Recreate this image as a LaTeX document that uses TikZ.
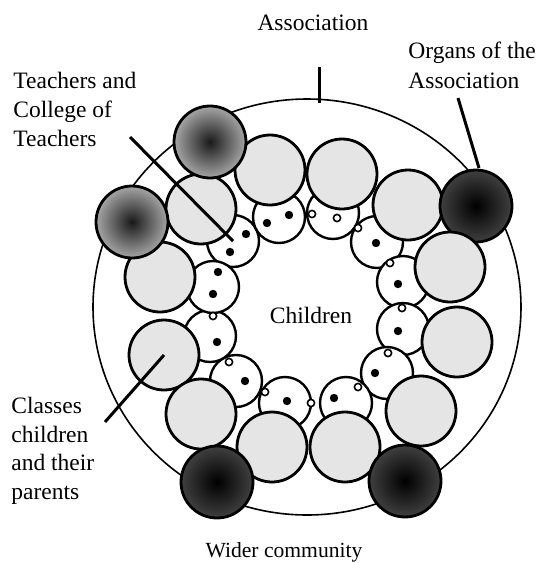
\documentclass[tikz,border=0pt]{standalone}
\usepackage{fontspec}
\setmainfont{Liberation Serif}
\newfontfamily\lblfont{Liberation Serif}
\usetikzlibrary{shapes.geometric}
\begin{document}
\begin{tikzpicture}[x=0.5pt,y=-0.5pt,
  outerring/.style={ellipse,draw,line width=0.8pt,inner sep=0pt,minimum width=214pt,minimum height=208pt},
  big/.style={circle,draw,line width=1.4pt,inner sep=0pt,minimum size=35pt,fill=black!10},
  darkc/.style={circle,draw,line width=1.4pt,inner sep=0pt,minimum size=36pt,shading=radial,inner color=black!90,outer color=black!35},
  blackc/.style={circle,draw,line width=1.4pt,inner sep=0pt,minimum size=36pt,shading=radial,inner color=black,outer color=black!75},
  small/.style={circle,draw,line width=1.2pt,inner sep=0pt,minimum size=26pt,fill=white},
  dotf/.style={circle,fill=black,inner sep=0pt,minimum size=4.2pt},
  ringc/.style={circle,draw,fill=white,line width=0.8pt,inner sep=0pt,minimum size=3.6pt},
  lbl/.style={font=\lblfont\fontsize{11.75}{14}\selectfont,inner sep=0pt},
  ptr/.style={line width=1.5pt}]
\useasboundingbox (0,0) rectangle (539,563);
\fill[white] (0,0) rectangle (539,563);
% outer community ring
\node[outerring] (outer) at (307,307) {};
% children circles
\node[small] (a) at (233,241) {};
\node[small] (b) at (279,217) {};
\node[small] (c) at (333,213) {};
\node[small] (d) at (377,242) {};
\node[small] (e) at (403,282) {};
\node[small] (f) at (403,329) {};
\node[small] (g) at (387,373) {};
\node[small] (h) at (346,403) {};
\node[small] (i) at (285,403) {};
\node[small] (j) at (236,381) {};
\node[small] (k) at (210,336) {};
\node[small] (l) at (213,287) {};
% dots
\node[dotf] (a1) at (246,234) {};
\node[dotf] (a2) at (230,252) {};
\node[dotf] (b1) at (267,223) {};
\node[dotf] (b2) at (289,215) {};
\node[ringc] (c1) at (312,214) {};
\node[ringc] (c2) at (337,218) {};
\node[ringc] (d1) at (358,228) {};
\node[dotf] (d2) at (376,243) {};
\node[ringc] (e1) at (390,263) {};
\node[dotf] (e2) at (398,284) {};
\node[ringc] (f1) at (402,308) {};
\node[dotf] (f2) at (398,331) {};
\node[ringc] (g1) at (388,353) {};
\node[dotf] (g2) at (375,373) {};
\node[ringc] (h1) at (358,387) {};
\node[dotf] (h2) at (334,398) {};
\node[ringc] (hi) at (311,403) {};
\node[dotf] (i1) at (287,401) {};
\node[ringc] (i2) at (265,392) {};
\node[ringc] (j1) at (229,362) {};
\node[dotf] (j2) at (245,381) {};
\node[ringc] (k1) at (213,316) {};
\node[dotf] (k2) at (217,342) {};
\node[dotf] (l1) at (218,272) {};
\node[dotf] (l2) at (213,294) {};
% class circles
\node[big] (L1) at (201,209) {};
\node[big] (L2) at (160,277) {};
\node[big] (L3) at (164,355) {};
\node[big] (L4) at (201,414) {};
\node[big] (L5) at (272,447) {};
\node[big] (L6) at (345,447) {};
\node[big] (L7) at (421,411) {};
\node[big] (L8) at (457,342) {};
\node[big] (L10) at (408,205) {};
\node[big] (L11) at (342,174) {};
\node[big] (L12) at (270,170) {};
% organs of the association
\node[darkc] (D1) at (210,142) {};
\node[darkc] (D2) at (132,222) {};
\node[blackc] (B1) at (476,206) {};
\node[big] (L9) at (450,267) {};
\node[blackc] (B2) at (217,482) {};
\node[blackc] (B3) at (405,481) {};
% labels
\node[lbl,anchor=base] (assoc) at (313,30) {Association};
\node[lbl,anchor=base west] (org1) at (408,58) {Organs of the};
\node[lbl,anchor=base west] (org2) at (408,88) {Association};
\node[lbl,anchor=base west] (t1) at (13,88) {Teachers and};
\node[lbl,anchor=base west] (t2) at (13,117) {College of};
\node[lbl,anchor=base west] (t3) at (13,146) {Teachers};
\node[lbl,anchor=base] (child) at (311,323) {Children};
\node[lbl,anchor=base west] (c1l) at (11,413) {Classes};
\node[lbl,anchor=base west] (c2l) at (11,442) {children};
\node[lbl,anchor=base west] (c3l) at (11,470) {and their};
\node[lbl,anchor=base west] (c4l) at (11,499) {parents};
\node[lbl,anchor=base,font=\lblfont\fontsize{10.8}{13}\selectfont] (wider) at (284,557) {Wider community};
% pointers
\coordinate (pa1) at (319,67);
\coordinate (pa2) at (319,103);
\coordinate (po1) at (458,98);
\coordinate (po2) at (479,168);
\coordinate (pt1) at (130,137);
\coordinate (pc1) at (105,422);
\draw[ptr] (pa1) -- (pa2);
\draw[ptr] (po1) -- (po2);
\draw[ptr] (pt1) -- (a.center);
\draw[ptr] (pc1) -- (L3.center);
\end{tikzpicture}
\end{document}
